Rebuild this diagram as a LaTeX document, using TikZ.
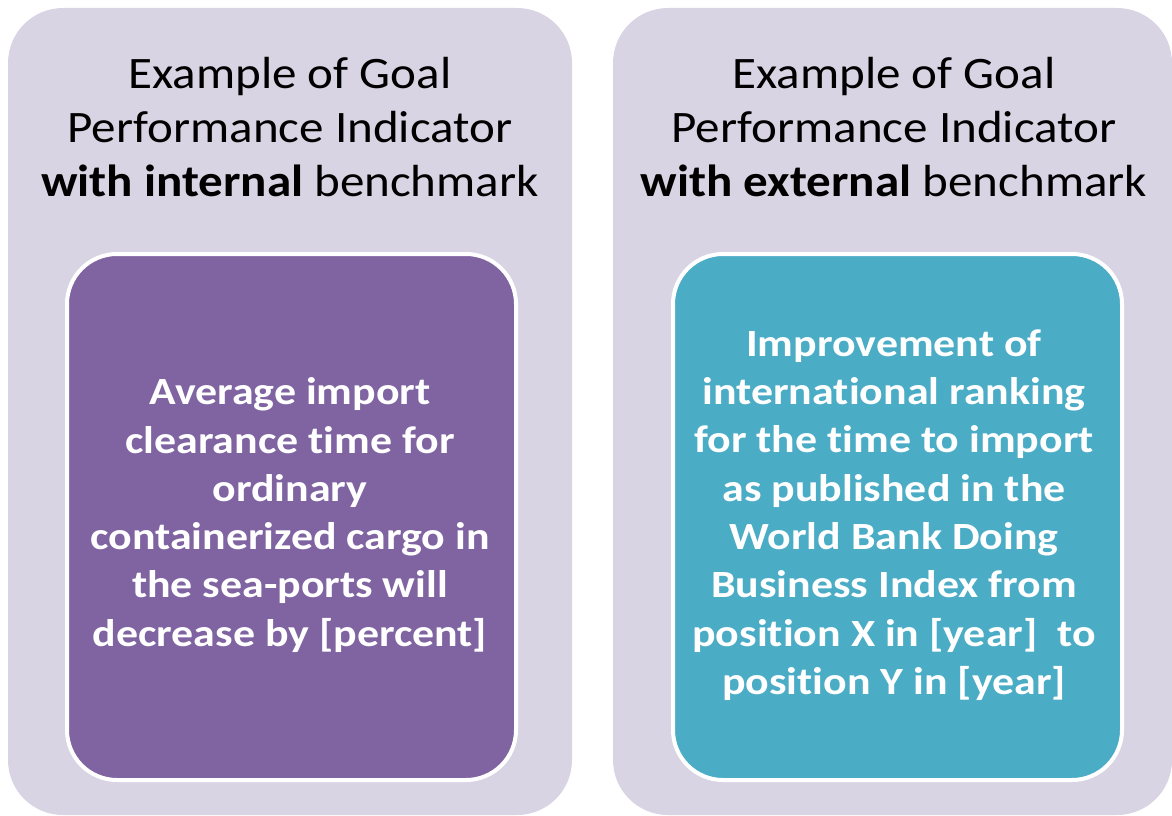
\documentclass[tikz,border=0pt]{standalone}
\usepackage{fontspec}
\setmainfont{Carlito}[Ligatures={NoCommon}]
\newfontfamily\titlefont{Carlito}[Ligatures={NoCommon},FakeStretch=1.09]
\newfontfamily\bodyfont{Carlito}[Ligatures={NoCommon},FakeStretch=1.14]
\definecolor{outerbg}{RGB}{217,212,227}
\definecolor{purplebox}{RGB}{128,100,162}
\definecolor{tealbox}{RGB}{75,172,198}
\begin{document}
\begin{tikzpicture}[x=1pt,y=-1pt,
  outerbox/.style={fill=outerbg, draw=none, rounded corners=55pt},
  innerbox/.style={draw=white, line width=4pt, rounded corners=50pt},
  titletext/.style={align=center, text=black, font=\titlefont\fontsize{45}{54}\selectfont},
  bodytext/.style={align=center, text=white, font=\bodyfont\fontsize{38.5}{48.3}\selectfont\bfseries}]
\useasboundingbox (0,0) rectangle (1172,816);
% outer panels
\path[outerbox] (8,8) rectangle (572,815);
\path[outerbox] (613,8) rectangle (1172,815);
% inner boxes
\draw[innerbox, fill=purplebox] (67,254) rectangle (516,780);
\draw[innerbox, fill=tealbox] (673,254) rectangle (1122,780);
% titles
\node[titletext] (t1) at (290,127) {Example of Goal\\Performance Indicator\\\textbf{with internal} benchmark};
\node[titletext] (t2) at (894,127) {Example of Goal\\Performance Indicator\\\textbf{with external} benchmark};
% body texts
\node[bodytext] (b1) at (290,515) {Average import\\clearance time for\\ordinary\\containerized cargo in\\the sea-ports will\\decrease by [percent]};
\node[bodytext] (b2) at (894,515) {Improvement of\\international ranking\\for the time to import\\as published in the\\World Bank Doing\\Business Index from\\position X in [year] \ to\\position Y in [year]};
\end{tikzpicture}
\end{document}
